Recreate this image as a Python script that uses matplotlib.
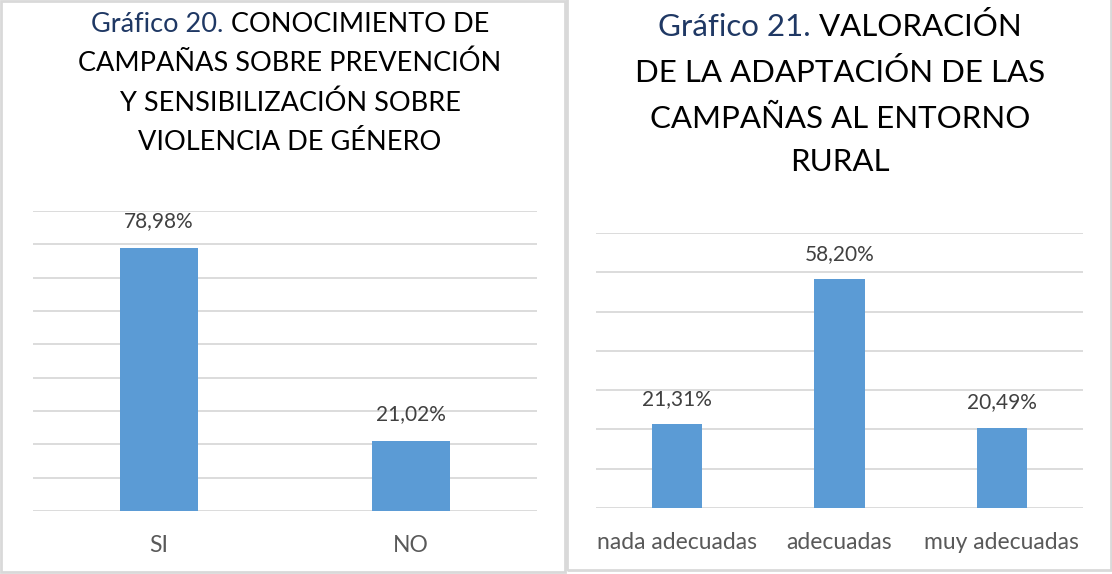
import matplotlib
matplotlib.use("Agg")
import matplotlib.pyplot as plt
from matplotlib.patches import Rectangle
from matplotlib.ticker import MultipleLocator

plt.rcParams['font.family'] = ['Lato', 'DejaVu Sans']

# ---- data ----
cats1 = ["SI", "NO"]
vals1 = [78.98, 21.02]
labels1 = ["78,98%", "21,02%"]

cats2 = ["nada adecuadas", "adecuadas", "muy adecuadas"]
vals2 = [21.31, 58.20, 20.49]
labels2 = ["21,31%", "58,20%", "20,49%"]

title1_prefix = "Gráfico 20."
title1_lines = [" CONOCIMIENTO DE", "CAMPAÑAS SOBRE PREVENCIÓN",
                "Y SENSIBILIZACIÓN SOBRE", "VIOLENCIA DE GÉNERO"]
title2_prefix = "Gráfico 21."
title2_lines = [" VALORACIÓN", "DE LA ADAPTACIÓN DE LAS",
                "CAMPAÑAS AL ENTORNO", "RURAL"]

BAR = "#5B9BD5"
GRID = "#D9D9D9"
BLUE = "#1F3864"
LABEL = "#404040"
TICK = "#595959"

W, H = 1112, 574
fig = plt.figure(figsize=(W / 100, H / 100), dpi=100)

def fx(px):
    return px / W

def fy(py):
    return 1 - py / H

# panel borders
for (x0, y0, x1, y1) in [(1, 1, 565, 572), (567, -2, 1111, 570)]:
    fig.patches.append(Rectangle((fx(x0), fy(y1)), fx(x1 - x0), (y1 - y0) / H,
                                 transform=fig.transFigure, fill=False,
                                 edgecolor=GRID, linewidth=2, zorder=0))

def setup(ax, cats, vals, labels, ymax, ystep, lbl_off, fs_lbl, fs_tick):
    x = list(range(len(cats)))
    ax.bar(x, vals, width=0.31, color=BAR, zorder=3)
    ax.set_xlim(-0.5, len(cats) - 0.5)
    ax.set_ylim(0, ymax)
    ax.yaxis.set_major_locator(MultipleLocator(ystep))
    ax.grid(axis='y', color=GRID, linewidth=1.3, zorder=0)
    ax.set_axisbelow(True)
    for s in ax.spines.values():
        s.set_visible(False)
    ax.tick_params(axis='y', left=False, labelleft=False)
    ax.tick_params(axis='x', length=0, pad=17, labelsize=fs_tick, labelcolor=TICK)
    ax.set_xticks(x)
    ax.set_xticklabels(cats)
    for xi, v, t in zip(x, vals, labels):
        ax.annotate(t, (xi, v), xytext=(0, lbl_off), textcoords='offset points',
                    ha='center', va='center', fontsize=fs_lbl, color=LABEL)
    ax.patch.set_alpha(0)

ax1 = fig.add_axes([fx(33), fy(511), fx(537 - 33), (511 - 211) / H])
setup(ax1, cats1, vals1, labels1, 90, 10, 19.5, 15, 16.5)

ax2 = fig.add_axes([fx(596), fy(508), fx(1083 - 596), (508 - 233) / H])
setup(ax2, cats2, vals2, labels2, 70, 10, 18, 15, 16.5)

renderer = fig.canvas.get_renderer()

def draw_title(cx, ys, prefix, lines, fs):
    # first line: two colors, centered together
    t1 = fig.text(0, 0, prefix, fontsize=fs, color=BLUE, va='center', ha='left')
    t2 = fig.text(0, 0, lines[0], fontsize=fs, color='black', va='center', ha='left')
    w1 = t1.get_window_extent(renderer).width
    w2 = t2.get_window_extent(renderer).width
    start = cx - (w1 + w2) / 2
    t1.set_position((fx(start), fy(ys[0])))
    t2.set_position((fx(start + w1), fy(ys[0])))
    for line, y in zip(lines[1:], ys[1:]):
        fig.text(fx(cx), fy(y), line, fontsize=fs, color='black', ha='center', va='center')

draw_title(290, [24, 63, 103, 142], title1_prefix, title1_lines, 19.5)
draw_title(840, [27, 73, 119, 162], title2_prefix, title2_lines, 22.5)

fig.savefig("out.png", dpi=100)
